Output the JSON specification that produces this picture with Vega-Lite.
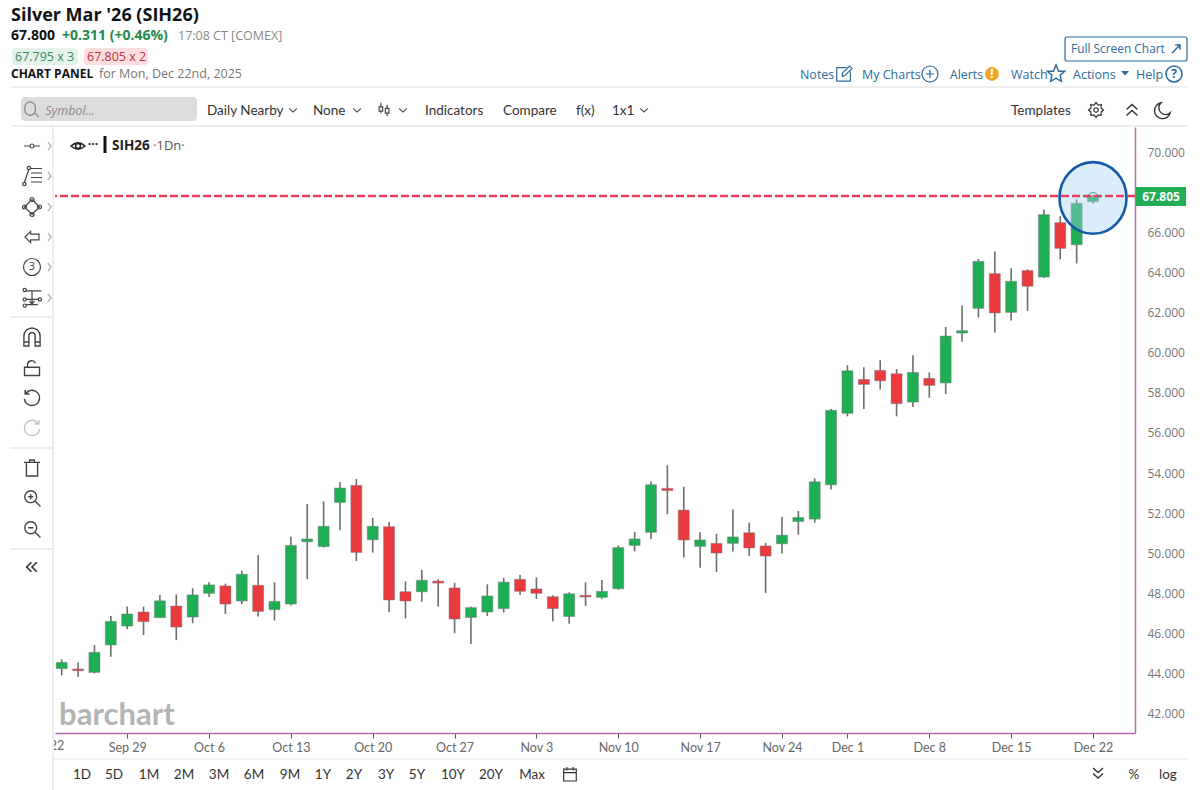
{
"$schema":"https://vega.github.io/schema/vega-lite/v6.json",
"description":"Silver Mar '26 (SIH26) daily candlesticks, barchart panel",
"autosize":{"type":"none"},
"padding":{"left":55,"top":127,"right":65,"bottom":57},
"width":1080,
"height":606,
"background":"#ffffff",
"config":{
"view":{"stroke":null},
"text":{"font":"Open Sans","baseline":"middle","align":"left","fontSize":13,"color":"#333333"},
"point":{"filled":false,"color":"#444444","strokeWidth":1.2,"opacity":1}
},
"datasets":{"candles":[
{"date":"2025-09-23","session":0,"open":44.26,"high":44.72,"low":43.92,"close":44.57},
{"date":"2025-09-24","session":1,"open":44.24,"high":44.56,"low":43.86,"close":44.16},
{"date":"2025-09-25","session":2,"open":44.07,"high":45.44,"low":44.02,"close":45.07},
{"date":"2025-09-26","session":3,"open":45.44,"high":46.88,"low":44.85,"close":46.61},
{"date":"2025-09-29","session":4,"open":46.38,"high":47.35,"low":46.23,"close":46.98},
{"date":"2025-09-30","session":5,"open":47.08,"high":47.35,"low":45.93,"close":46.60},
{"date":"2025-10-01","session":6,"open":46.80,"high":47.93,"low":46.78,"close":47.64},
{"date":"2025-10-02","session":7,"open":47.38,"high":47.96,"low":45.68,"close":46.33},
{"date":"2025-10-03","session":8,"open":46.83,"high":48.26,"low":46.52,"close":47.93},
{"date":"2025-10-06","session":9,"open":48.01,"high":48.56,"low":47.83,"close":48.43},
{"date":"2025-10-07","session":10,"open":48.38,"high":48.49,"low":46.98,"close":47.48},
{"date":"2025-10-08","session":11,"open":47.63,"high":49.14,"low":47.48,"close":48.96},
{"date":"2025-10-09","session":12,"open":48.41,"high":49.92,"low":46.86,"close":47.11},
{"date":"2025-10-10","session":13,"open":47.20,"high":48.56,"low":46.66,"close":47.61},
{"date":"2025-10-13","session":14,"open":47.48,"high":50.83,"low":47.40,"close":50.40},
{"date":"2025-10-14","session":15,"open":50.58,"high":52.46,"low":48.72,"close":50.72},
{"date":"2025-10-15","session":16,"open":50.34,"high":52.59,"low":50.29,"close":51.35},
{"date":"2025-10-16","session":17,"open":52.54,"high":53.56,"low":51.17,"close":53.26},
{"date":"2025-10-17","session":18,"open":53.39,"high":53.71,"low":49.62,"close":50.05},
{"date":"2025-10-20","session":19,"open":50.68,"high":51.78,"low":50.04,"close":51.35},
{"date":"2025-10-21","session":20,"open":51.33,"high":51.56,"low":47.08,"close":47.68},
{"date":"2025-10-22","session":21,"open":48.09,"high":48.61,"low":46.76,"close":47.63},
{"date":"2025-10-23","session":22,"open":48.09,"high":49.17,"low":47.59,"close":48.66},
{"date":"2025-10-24","session":23,"open":48.62,"high":48.71,"low":47.35,"close":48.52},
{"date":"2025-10-27","session":24,"open":48.28,"high":48.54,"low":46.02,"close":46.73},
{"date":"2025-10-28","session":25,"open":46.81,"high":47.35,"low":45.49,"close":47.30},
{"date":"2025-10-29","session":26,"open":47.08,"high":48.46,"low":46.88,"close":47.88},
{"date":"2025-10-30","session":27,"open":47.25,"high":48.79,"low":47.05,"close":48.57},
{"date":"2025-10-31","session":28,"open":48.71,"high":48.94,"low":47.93,"close":48.11},
{"date":"2025-11-03","session":29,"open":48.23,"high":48.81,"low":47.73,"close":48.01},
{"date":"2025-11-04","session":30,"open":47.84,"high":47.91,"low":46.61,"close":47.25},
{"date":"2025-11-05","session":31,"open":46.86,"high":48.06,"low":46.50,"close":47.99},
{"date":"2025-11-06","session":32,"open":47.91,"high":48.56,"low":47.38,"close":47.83},
{"date":"2025-11-07","session":33,"open":47.81,"high":48.67,"low":47.74,"close":48.11},
{"date":"2025-11-10","session":34,"open":48.24,"high":50.40,"low":48.19,"close":50.29},
{"date":"2025-11-11","session":35,"open":50.40,"high":51.08,"low":50.10,"close":50.72},
{"date":"2025-11-12","session":36,"open":51.05,"high":53.59,"low":50.72,"close":53.42},
{"date":"2025-11-13","session":37,"open":53.24,"high":54.39,"low":51.95,"close":53.13},
{"date":"2025-11-14","session":38,"open":52.16,"high":53.32,"low":49.80,"close":50.67},
{"date":"2025-11-17","session":39,"open":50.35,"high":51.05,"low":49.29,"close":50.67},
{"date":"2025-11-18","session":40,"open":50.50,"high":50.97,"low":49.07,"close":50.02},
{"date":"2025-11-19","session":41,"open":50.50,"high":52.20,"low":50.10,"close":50.82},
{"date":"2025-11-20","session":42,"open":51.03,"high":51.53,"low":49.88,"close":50.27},
{"date":"2025-11-21","session":43,"open":50.37,"high":50.52,"low":48.03,"close":49.87},
{"date":"2025-11-24","session":44,"open":50.48,"high":51.83,"low":50.00,"close":50.91},
{"date":"2025-11-25","session":45,"open":51.59,"high":52.11,"low":50.93,"close":51.79},
{"date":"2025-11-26","session":46,"open":51.71,"high":53.74,"low":51.53,"close":53.57},
{"date":"2025-11-28","session":47,"open":53.42,"high":57.19,"low":53.19,"close":57.13},
{"date":"2025-12-01","session":48,"open":56.98,"high":59.38,"low":56.83,"close":59.10},
{"date":"2025-12-02","session":49,"open":58.67,"high":59.27,"low":57.19,"close":58.42},
{"date":"2025-12-03","session":50,"open":59.12,"high":59.62,"low":58.17,"close":58.60},
{"date":"2025-12-04","session":51,"open":58.95,"high":59.19,"low":56.83,"close":57.46},
{"date":"2025-12-05","session":52,"open":57.54,"high":59.87,"low":57.29,"close":59.02},
{"date":"2025-12-08","session":53,"open":58.72,"high":59.02,"low":57.76,"close":58.37},
{"date":"2025-12-09","session":54,"open":58.49,"high":61.28,"low":57.94,"close":60.83},
{"date":"2025-12-10","session":55,"open":60.98,"high":62.35,"low":60.54,"close":61.10},
{"date":"2025-12-11","session":56,"open":62.21,"high":64.67,"low":61.75,"close":64.55},
{"date":"2025-12-12","session":57,"open":63.94,"high":65.04,"low":61.00,"close":61.98},
{"date":"2025-12-15","session":58,"open":62.01,"high":64.21,"low":61.60,"close":63.56},
{"date":"2025-12-16","session":59,"open":64.09,"high":64.16,"low":62.08,"close":63.31},
{"date":"2025-12-17","session":60,"open":63.77,"high":67.13,"low":63.72,"close":66.88},
{"date":"2025-12-18","session":61,"open":66.48,"high":66.80,"low":64.65,"close":65.20},
{"date":"2025-12-19","session":62,"open":65.38,"high":67.64,"low":64.45,"close":67.44},
{"date":"2025-12-22","session":63,"open":67.53,"high":67.86,"low":67.44,"close":67.80}
]},
"layer":[
{"data":{"name":"candles"},"mark":{"type":"rule","color":"#6e6e6e","strokeWidth":1.6},
"encoding":{
"x":{"field":"session","type":"quantitative","scale":{"domain":[-0.409,65.565],"nice":false,"zero":false,"padding":0},
"axis":{"title":null,"grid":false,"values":[4,9,14,19,24,29,34,39,44,48,53,58,63],
"labelExpr":"['Sep 29','Oct 6','Oct 13','Oct 20','Oct 27','Nov 3','Nov 10','Nov 17','Nov 24','Dec 1','Dec 8','Dec 15','Dec 22'][indexof([4,9,14,19,24,29,34,39,44,48,53,58,63],datum.value)]",
"domainColor":"#b56bab","domainWidth":1.5,"tickColor":"#555555","tickSize":5,"labelColor":"#666666","labelFont":"Lato","labelFontSize":12.5,"labelPadding":3,"labelBound":false,"labelFlush":false,"labelOverlap":false}},
"y":{"field":"low","type":"quantitative","scale":{"domain":[41.052,71.246],"nice":false,"zero":false},
"axis":{"title":null,"orient":"right","grid":false,"values":[42,44,46,48,50,52,54,56,58,60,62,64,66,70],"format":".3f",
"domainColor":"#b56bab","domainWidth":1.5,"ticks":false,"tickSize":0,"labelColor":"#777777","labelFont":"Open Sans","labelFontSize":12,"labelPadding":12,"labelBound":false,"labelOverlap":false}},
"y2":{"field":"high"}}},
{"data":{"name":"candles"},"mark":{"type":"bar","size":11,"orient":"vertical","stroke":"#7a7a7a","strokeWidth":0.5},
"encoding":{"x":{"field":"session","type":"quantitative"},"y":{"field":"open","type":"quantitative"},"y2":{"field":"close"},
"color":{"condition":{"test":"datum.close>=datum.open","value":"#1eae53"},"value":"#ea3a3d"}}},

{"data":{"values":[{"label":"highlight"}]},"mark":{"type":"point","shape":"M-1,0A1,1.07,0,1,1,1,0A1,1.07,0,1,1,-1,0Z","size":4489,"filled":true,"fill":"#a6d3f6","fillOpacity":0.4,"stroke":"#1259a8","strokeWidth":2.6,"strokeOpacity":1},"encoding":{"x":{"datum":63},"y":{"datum":67.71}}},
{"data":{"values":[{"label":"last"}]},"mark":{"type":"rule","color":"#e8405c","strokeWidth":2.5,"strokeDash":[8,3]},"encoding":{"y":{"datum":67.805}}},
{"data":{"values":[{"label":"arc"}]},"mark":{"type":"point","shape":"M-1,0.4A1,1,0,1,1,1,0.4","size":144,"color":"#3a9d8f","strokeWidth":1},"encoding":{"x":{"datum":63},"y":{"datum":67.8}}},

{"data":{"values":[{"label":"tag"}]},"mark":{"type":"rect","color":"#22ad56"},"encoding":{"x":{"datum":65.628},"x2":{"datum":68.682},"y":{"datum":68.257},"y2":{"datum":67.31}}},
{"data":{"values":[{"label":"67.805"}]},"mark":{"type":"text","align":"center","fontWeight":"bold","fontSize":12,"color":"#ffffff"},"encoding":{"x":{"datum":67.155},"y":{"datum":67.783},"text":{"field":"label"}}},

{"data":{"values":[{"label":"Sep 22"}]},"mark":{"type":"text","align":"center","font":"Lato","fontSize":12.5,"color":"#666666"},"encoding":{"x":{"datum":-1},"y":{"datum":40.404},"text":{"field":"label"}}},
{"data":{"values":[{"label":"mask"}]},"mark":{"type":"rect","color":"#ffffff"},"encoding":{"x":{"datum":-3.4},"x2":{"datum":-0.47},"y":{"datum":40.754},"y2":{"datum":39.956}}},

{"data":{"values":[{"label":"barchart"}]},"mark":{"type":"text","font":"Lato","fontWeight":"bold","fontSize":31,"color":"#b4b4b4"},"encoding":{"x":{"datum":-0.16},"y":{"datum":41.92},"text":{"field":"label"}}},

{"data":{"values":[{"label":"line"}]},"mark":{"type":"rule","color":"#dddddd"},"encoding":{"x":{"datum":-3.097},"x2":{"datum":68.743},"y":{"datum":73.239}}},
{"data":{"values":[{"label":"line"}]},"mark":{"type":"rule","color":"#dddddd"},"encoding":{"x":{"datum":-3.097},"x2":{"datum":68.743},"y":{"datum":71.296}}},
{"data":{"values":[{"label":"line"}]},"mark":{"type":"rule","color":"#e4e4e4"},"encoding":{"x":{"datum":-0.47},"x2":{"datum":68.743},"y":{"datum":39.756}}},
{"data":{"values":[{"label":"line"}]},"mark":{"type":"rule","color":"#dddddd"},"encoding":{"x":{"datum":-0.531},"y":{"datum":71.296},"y2":{"datum":38.212}}},
{"data":{"values":[{"label":"line"}]},"mark":{"type":"rule","color":"#dddddd"},"encoding":{"x":{"datum":-3.15},"x2":{"datum":-0.531},"y":{"datum":61.779}}},
{"data":{"values":[{"label":"line"}]},"mark":{"type":"rule","color":"#dddddd"},"encoding":{"x":{"datum":-3.15},"x2":{"datum":-0.531},"y":{"datum":55.252}}},
{"data":{"values":[{"label":"line"}]},"mark":{"type":"rule","color":"#dddddd"},"encoding":{"x":{"datum":-3.15},"x2":{"datum":-0.531},"y":{"datum":50.22}}},

{"data":{"values":[{"label":"Silver Mar '26 (SIH26)"}]},"mark":{"type":"text","fontWeight":"bold","fontSize":18,"color":"#111111"},"encoding":{"x":{"datum":-3.097},"y":{"datum":76.777},"text":{"field":"label"}}},
{"data":{"values":[{"label":"67.800"}]},"mark":{"type":"text","fontWeight":"bold","fontSize":14,"color":"#111111"},"encoding":{"x":{"datum":-3.097},"y":{"datum":75.78},"text":{"field":"label"}}},
{"data":{"values":[{"label":"+0.311 (+0.46%)"}]},"mark":{"type":"text","fontWeight":"bold","fontSize":14,"color":"#1f8a4c"},"encoding":{"x":{"datum":0.018},"y":{"datum":75.78},"text":{"field":"label"}}},
{"data":{"values":[{"label":"17:08 CT [COMEX]"}]},"mark":{"type":"text","fontSize":12.5,"color":"#888888"},"encoding":{"x":{"datum":7.104},"y":{"datum":75.78},"text":{"field":"label"}}},
{"data":{"values":[{"label":"bid"}]},"mark":{"type":"rect","color":"#e3f3ea","cornerRadius":3},"encoding":{"x":{"datum":-3.036},"x2":{"datum":0.996},"y":{"datum":75.182},"y2":{"datum":74.335}}},
{"data":{"values":[{"label":"ask"}]},"mark":{"type":"rect","color":"#fbdfe0","cornerRadius":3},"encoding":{"x":{"datum":1.362},"x2":{"datum":5.272},"y":{"datum":75.182},"y2":{"datum":74.335}}},
{"data":{"values":[{"label":"67.795 x 3"}]},"mark":{"type":"text","fontSize":12.5,"color":"#3a8a62"},"encoding":{"x":{"datum":-2.853},"y":{"datum":74.734},"text":{"field":"label"}}},
{"data":{"values":[{"label":"67.805 x 2"}]},"mark":{"type":"text","fontSize":12.5,"color":"#c0303c"},"encoding":{"x":{"datum":1.545},"y":{"datum":74.734},"text":{"field":"label"}}},
{"data":{"values":[{"label":"CHART PANEL"}]},"mark":{"type":"text","fontWeight":"bold","fontSize":12,"color":"#111111"},"encoding":{"x":{"datum":-3.097},"y":{"datum":73.887},"text":{"field":"label"}}},
{"data":{"values":[{"label":"for Mon, Dec 22nd, 2025"}]},"mark":{"type":"text","fontSize":12.5,"color":"#777777"},"encoding":{"x":{"datum":2.279},"y":{"datum":73.887},"text":{"field":"label"}}},

{"data":{"values":[{"label":"button"}]},"mark":{"type":"rect","fill":"#ffffff","stroke":"#2c6a9c","strokeWidth":1.2,"cornerRadius":2},"encoding":{"x":{"datum":61.291},"x2":{"datum":68.743},"y":{"datum":75.73},"y2":{"datum":74.535}}},
{"data":{"values":[{"label":"Full Screen Chart"}]},"mark":{"type":"text","fontSize":11.9,"color":"#2c6a9c"},"encoding":{"x":{"datum":61.657},"y":{"datum":75.133},"text":{"field":"label"}}},
{"data":{"values":[{"label":"expand"}]},"mark":{"type":"point","shape":"M-1,1L1,-1M-.2,-1H1V.2","size":64,"color":"#2c6a9c","strokeWidth":1.5},"encoding":{"x":{"datum":68.071},"y":{"datum":75.133}}},
{"data":{"values":[{"label":"Notes"}]},"mark":{"type":"text","fontSize":12.5,"color":"#2c6a9c"},"encoding":{"x":{"datum":45.098},"y":{"datum":73.85},"text":{"field":"label"}}},
{"data":{"values":[{"label":"My Charts"}]},"mark":{"type":"text","fontSize":12.5,"color":"#2c6a9c"},"encoding":{"x":{"datum":48.886},"y":{"datum":73.85},"text":{"field":"label"}}},
{"data":{"values":[{"label":"Alerts"}]},"mark":{"type":"text","fontSize":12.3,"color":"#2c6a9c"},"encoding":{"x":{"datum":54.261},"y":{"datum":73.85},"text":{"field":"label"}}},
{"data":{"values":[{"label":"Watch"}]},"mark":{"type":"text","fontSize":12.5,"color":"#2c6a9c"},"encoding":{"x":{"datum":57.992},"y":{"datum":73.85},"text":{"field":"label"}}},
{"data":{"values":[{"label":"Actions"}]},"mark":{"type":"text","fontSize":12.5,"color":"#2c6a9c"},"encoding":{"x":{"datum":61.779},"y":{"datum":73.85},"text":{"field":"label"}}},
{"data":{"values":[{"label":"Help"}]},"mark":{"type":"text","fontSize":12.5,"color":"#2c6a9c"},"encoding":{"x":{"datum":65.628},"y":{"datum":73.82},"text":{"field":"label"}}},
{"data":{"values":[{"label":"notes"}]},"mark":{"type":"point","shape":"M.3,-.8H-.9V.9H.8V-.3M-.2,.3L.1,.2L1,-.7L.7,-1L-.2,-.1Z","size":256,"color":"#2c6a9c"},"encoding":{"x":{"datum":47.786},"y":{"datum":73.887}}},
{"data":{"values":[{"label":"plus"}]},"mark":{"type":"point","shape":"M1,0A1,1,0,1,1,-1,0A1,1,0,1,1,1,0M-.5,0H.5M0,-.5V.5","size":256,"color":"#2c6a9c"},"encoding":{"x":{"datum":53.04},"y":{"datum":73.887}}},
{"data":{"values":[{"label":"alert"}]},"mark":{"type":"point","shape":"circle","size":190,"filled":true,"color":"#f5a623"},"encoding":{"x":{"datum":56.827},"y":{"datum":73.887}}},
{"data":{"values":[{"label":"!"}]},"mark":{"type":"text","align":"center","fontWeight":"bold","fontSize":13,"color":"#ffffff"},"encoding":{"x":{"datum":56.827},"y":{"datum":73.887},"text":{"field":"label"}}},
{"data":{"values":[{"label":"star"}]},"mark":{"type":"point","shape":"M0,-1L.29,-.31L.95,-.31L.47,.12L.59,.81L0,.45L-.59,.81L-.47,.12L-.95,-.31L-.29,-.31Z","size":324,"color":"#2c6a9c","strokeWidth":1.5},"encoding":{"x":{"datum":60.741},"y":{"datum":73.887}}},
{"data":{"values":[{"label":"caret"}]},"mark":{"type":"point","shape":"M-1,-.5H1L0,.6Z","size":64,"filled":true,"color":"#2c6a9c"},"encoding":{"x":{"datum":64.956},"y":{"datum":73.937}}},
{"data":{"values":[{"label":"help"}]},"mark":{"type":"point","shape":"M1,0A1,1,0,1,1,-1,0A1,1,0,1,1,1,0","size":256,"color":"#2c6a9c","strokeWidth":1.5},"encoding":{"x":{"datum":67.949},"y":{"datum":73.887}}},
{"data":{"values":[{"label":"?"}]},"mark":{"type":"text","align":"center","fontWeight":"bold","fontSize":12,"color":"#2c6a9c"},"encoding":{"x":{"datum":67.949},"y":{"datum":73.887},"text":{"field":"label"}}},

{"data":{"values":[{"label":"search box"}]},"mark":{"type":"rect","color":"#dcdcdc","cornerRadius":4},"encoding":{"x":{"datum":-2.486},"x2":{"datum":8.265},"y":{"datum":72.741},"y2":{"datum":71.545}}},
{"data":{"values":[{"label":"search"}]},"mark":{"type":"point","shape":"M.45,-.2A.75,.75,0,1,1,-1,-.2A.75,.75,0,1,1,.45,-.2M.3,.35L1,1","size":196,"color":"#888888"},"encoding":{"x":{"datum":-1.814},"y":{"datum":72.093}}},
{"data":{"values":[{"label":"Symbol..."}]},"mark":{"type":"text","fontStyle":"italic","fontSize":12.5,"color":"#888888"},"encoding":{"x":{"datum":-1.008},"y":{"datum":72.05},"text":{"field":"label"}}},
{"data":{"values":[{"label":"Daily Nearby"}]},"mark":{"type":"text","font":"Lato","fontSize":13.5},"encoding":{"x":{"datum":8.876},"y":{"datum":72.05},"text":{"field":"label"}}},
{"data":{"values":[{"label":"None"}]},"mark":{"type":"text","font":"Lato","fontSize":13.5},"encoding":{"x":{"datum":15.352},"y":{"datum":72.05},"text":{"field":"label"}}},
{"data":{"values":[{"label":"Indicators"}]},"mark":{"type":"text","font":"Lato","fontSize":13.5},"encoding":{"x":{"datum":22.194},"y":{"datum":72.05},"text":{"field":"label"}}},
{"data":{"values":[{"label":"Compare"}]},"mark":{"type":"text","font":"Lato","fontSize":13.5},"encoding":{"x":{"datum":26.959},"y":{"datum":72.05},"text":{"field":"label"}}},
{"data":{"values":[{"label":"f(x)"}]},"mark":{"type":"text","font":"Lato","fontSize":13.5},"encoding":{"x":{"datum":31.419},"y":{"datum":72.05},"text":{"field":"label"}}},
{"data":{"values":[{"label":"1x1"}]},"mark":{"type":"text","font":"Lato","fontSize":13.5},"encoding":{"x":{"datum":33.618},"y":{"datum":72.05},"text":{"field":"label"}}},
{"data":{"values":[{"label":"Templates"}]},"mark":{"type":"text","font":"Lato","fontSize":13.5},"encoding":{"x":{"datum":57.992},"y":{"datum":72.05},"text":{"field":"label"}}},
{"data":{"values":[{"label":"chevron"}]},"mark":{"type":"point","shape":"M-1,-.4L0,.5L1,-.4","size":64,"color":"#555555"},"encoding":{"x":{"datum":14.13},"y":{"datum":72.093}}},
{"data":{"values":[{"label":"chevron"}]},"mark":{"type":"point","shape":"M-1,-.4L0,.5L1,-.4","size":64,"color":"#555555"},"encoding":{"x":{"datum":18.04},"y":{"datum":72.093}}},
{"data":{"values":[{"label":"chevron"}]},"mark":{"type":"point","shape":"M-1,-.4L0,.5L1,-.4","size":64,"color":"#555555"},"encoding":{"x":{"datum":20.85},"y":{"datum":72.093}}},
{"data":{"values":[{"label":"chevron"}]},"mark":{"type":"point","shape":"M-1,-.4L0,.5L1,-.4","size":64,"color":"#555555"},"encoding":{"x":{"datum":35.573},"y":{"datum":72.093}}},
{"data":{"values":[{"label":"candle type"}]},"mark":{"type":"point","shape":"M-.7,-.3H-.2V.3H-.7ZM-.45,-.3V-.9M-.45,.3V.6M.2,-.1H.7V.6H.2ZM.45,-.1V-.6M.45,.6V1","size":196},"encoding":{"x":{"datum":19.689},"y":{"datum":72.143}}},
{"data":{"values":[{"label":"gear"}]},"mark":{"type":"point","shape":"M1,0L.665,.276L.707,.707L.276,.665L0,1L-.276,.665L-.707,.707L-.665,.276L-1,0L-.665,-.276L-.707,-.707L-.276,-.665L0,-1L.276,-.665L.707,-.707L.665,-.276ZM.3,0A.3,.3,0,1,1,-.3,0A.3,.3,0,1,1,.3,0","size":225,"color":"#333333"},"encoding":{"x":{"datum":63.184},"y":{"datum":72.093}}},
{"data":{"values":[{"label":"collapse"}]},"mark":{"type":"point","shape":"M-1,-.1L0,-1L1,-.1M-1,1L0,.1L1,1","size":121,"color":"#333333","strokeWidth":1.5},"encoding":{"x":{"datum":65.383},"y":{"datum":72.093}}},
{"data":{"values":[{"label":"moon"}]},"mark":{"type":"point","shape":"M.9,.35A1,1,0,1,1,-.25,-.9A.8,.8,0,0,0,.9,.35Z","size":256,"color":"#333333","strokeWidth":1.4},"encoding":{"x":{"datum":67.277},"y":{"datum":72.093}}},

{"data":{"values":[{"label":"eye"}]},"mark":{"type":"point","shape":"M-1,0Q0,-.9,1,0Q0,.9,-1,0ZM.35,0A.35,.35,0,1,1,-.35,0A.35,.35,0,1,1,.35,0","size":196,"color":"#222222","strokeWidth":1.5},"encoding":{"x":{"datum":0.996},"y":{"datum":70.299}}},
{"data":{"values":[{"label":"···"}]},"mark":{"type":"text","align":"center","fontWeight":"bold","fontSize":12,"color":"#222222"},"encoding":{"x":{"datum":1.912},"y":{"datum":70.399},"text":{"field":"label"}}},
{"data":{"values":[{"label":"series bar"}]},"mark":{"type":"rule","color":"#111111","strokeWidth":3},"encoding":{"x":{"datum":2.645},"y":{"datum":70.798},"y2":{"datum":69.951}}},
{"data":{"values":[{"label":"SIH26"}]},"mark":{"type":"text","fontWeight":"bold","fontSize":13.5,"color":"#222222"},"encoding":{"x":{"datum":3.073},"y":{"datum":70.299},"text":{"field":"label"}}},
{"data":{"values":[{"label":"·1Dn·"}]},"mark":{"type":"text","fontSize":13,"color":"#555555"},"encoding":{"x":{"datum":5.58},"y":{"datum":70.299},"text":{"field":"label"}}},

{"data":{"values":[{"label":"line tool"}]},"mark":{"type":"point","shape":"M-1,0H-.25M.25,0H1M.25,0A.25,.25,0,1,1,-.25,0A.25,.25,0,1,1,.25,0","size":256},"encoding":{"x":{"datum":-1.814},"y":{"datum":70.299}}},
{"data":{"values":[{"label":"fib tool"}]},"mark":{"type":"point","shape":"M-.1,-.75H1M-.1,-.3H1M-.1,.15H1M-.1,.6H1M-.75,.6L-.3,-.7M-.15,-.8A.17,.17,0,1,1,-.49,-.8A.17,.17,0,1,1,-.15,-.8M-.6,.8A.17,.17,0,1,1,-.94,.8A.17,.17,0,1,1,-.6,.8","size":400},"encoding":{"x":{"datum":-1.814},"y":{"datum":68.805}}},
{"data":{"values":[{"label":"shape tool"}]},"mark":{"type":"point","shape":"M0,-.75L.75,0L0,.75L-.75,0ZM.2,-.75A.2,.2,0,1,1,-.2,-.75A.2,.2,0,1,1,.2,-.75M.2,.75A.2,.2,0,1,1,-.2,.75A.2,.2,0,1,1,.2,.75M.95,0A.2,.2,0,1,1,.55,0A.2,.2,0,1,1,.95,0M-.55,0A.2,.2,0,1,1,-.95,0A.2,.2,0,1,1,-.55,0","size":400},"encoding":{"x":{"datum":-1.814},"y":{"datum":67.26}}},
{"data":{"values":[{"label":"arrow tool"}]},"mark":{"type":"point","shape":"M-1,0L-.2,-.8V-.4H1V.4H-.2V.8Z","size":196},"encoding":{"x":{"datum":-1.814},"y":{"datum":65.765}}},
{"data":{"values":[{"label":"count tool"}]},"mark":{"type":"point","shape":"M1,0A1,1,0,1,1,-1,0A1,1,0,1,1,1,0","size":289},"encoding":{"x":{"datum":-1.814},"y":{"datum":64.27}}},
{"data":{"values":[{"label":"3"}]},"mark":{"type":"text","align":"center","fontSize":11,"color":"#444444"},"encoding":{"x":{"datum":-1.814},"y":{"datum":64.27},"text":{"field":"label"}}},
{"data":{"values":[{"label":"measure tool"}]},"mark":{"type":"point","shape":"M-.6,-.75H1M-.6,.7H.6M0,-.7V.65M-.25,.3L0,.65L.25,.3M-.6,-.85A.17,.17,0,1,1,-.94,-.85A.17,.17,0,1,1,-.6,-.85M-.6,.15A.17,.17,0,1,1,-.94,.15A.17,.17,0,1,1,-.6,.15M-.6,.8A.17,.17,0,1,1,-.94,.8A.17,.17,0,1,1,-.6,.8M1,.15A.17,.17,0,1,1,.66,.15A.17,.17,0,1,1,1,.15M-.6,.15H.66","size":361},"encoding":{"x":{"datum":-1.814},"y":{"datum":62.726}}},
{"data":{"values":[{"label":"magnet"}]},"mark":{"type":"point","shape":"M-.9,1V-.1A.9,.9,0,0,1,.9,-.1V1H.35V-.1A.35,.4,0,0,0,-.35,-.1V1ZM-.9,.55H-.35M.35,.55H.9","size":324,"strokeWidth":1.4},"encoding":{"x":{"datum":-1.814},"y":{"datum":60.783}}},
{"data":{"values":[{"label":"lock"}]},"mark":{"type":"point","shape":"M-1,-.1H1V1H-1ZM-.6,-.1V-.5A.55,.55,0,0,1,.45,-.65","size":225,"strokeWidth":1.4},"encoding":{"x":{"datum":-1.814},"y":{"datum":59.238}}},
{"data":{"values":[{"label":"undo"}]},"mark":{"type":"point","shape":"M-.75,-.6A.95,.95,0,1,1,-.95,.1M-.85,-1V-.5H-.3","size":256,"strokeWidth":1.5},"encoding":{"x":{"datum":-1.814},"y":{"datum":57.743}}},
{"data":{"values":[{"label":"redo"}]},"mark":{"type":"point","shape":"M.75,-.6A.95,.95,0,1,0,.95,.1M.85,-1V-.5H.3","size":256,"strokeWidth":1.5,"color":"#c4c4c4"},"encoding":{"x":{"datum":-1.814},"y":{"datum":56.249}}},
{"data":{"values":[{"label":"trash"}]},"mark":{"type":"point","shape":"M-1,-.7H1M-.3,-.7V-1H.3V-.7M-.7,-.7V1H.7V-.7M-.7,1H.7","size":256,"strokeWidth":1.4},"encoding":{"x":{"datum":-1.814},"y":{"datum":54.256}}},
{"data":{"values":[{"label":"zoom in"}]},"mark":{"type":"point","shape":"M.55,-.15A.7,.7,0,1,1,-.85,-.15A.7,.7,0,1,1,.55,-.15M.35,.35L1,1M-.45,-.15H.15M-.15,-.45V.15","size":289,"strokeWidth":1.4},"encoding":{"x":{"datum":-1.814},"y":{"datum":52.761}}},
{"data":{"values":[{"label":"zoom out"}]},"mark":{"type":"point","shape":"M.55,-.15A.7,.7,0,1,1,-.85,-.15A.7,.7,0,1,1,.55,-.15M.35,.35L1,1M-.45,-.15H.15","size":289,"strokeWidth":1.4},"encoding":{"x":{"datum":-1.814},"y":{"datum":51.216}}},
{"data":{"values":[{"label":"collapse panel"}]},"mark":{"type":"point","shape":"M-.1,-.8L-.9,0L-.1,.8M.8,-.8L0,0L.8,.8","size":144,"strokeWidth":1.6,"color":"#333333"},"encoding":{"x":{"datum":-1.814},"y":{"datum":49.323}}},
{"data":{"values":[{"label":"more"}]},"mark":{"type":"point","shape":"M-.4,-1L.4,0L-.4,1","size":64,"color":"#aaaaaa"},"encoding":{"x":{"datum":-0.745},"y":{"datum":70.299}}},
{"data":{"values":[{"label":"more"}]},"mark":{"type":"point","shape":"M-.4,-1L.4,0L-.4,1","size":64,"color":"#aaaaaa"},"encoding":{"x":{"datum":-0.745},"y":{"datum":68.805}}},
{"data":{"values":[{"label":"more"}]},"mark":{"type":"point","shape":"M-.4,-1L.4,0L-.4,1","size":64,"color":"#aaaaaa"},"encoding":{"x":{"datum":-0.745},"y":{"datum":67.26}}},
{"data":{"values":[{"label":"more"}]},"mark":{"type":"point","shape":"M-.4,-1L.4,0L-.4,1","size":64,"color":"#aaaaaa"},"encoding":{"x":{"datum":-0.745},"y":{"datum":65.765}}},
{"data":{"values":[{"label":"more"}]},"mark":{"type":"point","shape":"M-.4,-1L.4,0L-.4,1","size":64,"color":"#aaaaaa"},"encoding":{"x":{"datum":-0.745},"y":{"datum":64.27}}},
{"data":{"values":[{"label":"more"}]},"mark":{"type":"point","shape":"M-.4,-1L.4,0L-.4,1","size":64,"color":"#aaaaaa"},"encoding":{"x":{"datum":-0.745},"y":{"datum":62.726}}},

{"data":{"values":[{"label":"1D"}]},"mark":{"type":"text","align":"center","font":"Lato","fontSize":13.5},"encoding":{"x":{"datum":1.24},"y":{"datum":38.96},"text":{"field":"label"}}},
{"data":{"values":[{"label":"5D"}]},"mark":{"type":"text","align":"center","font":"Lato","fontSize":13.5},"encoding":{"x":{"datum":3.195},"y":{"datum":38.96},"text":{"field":"label"}}},
{"data":{"values":[{"label":"1M"}]},"mark":{"type":"text","align":"center","font":"Lato","fontSize":13.5},"encoding":{"x":{"datum":5.333},"y":{"datum":38.96},"text":{"field":"label"}}},
{"data":{"values":[{"label":"2M"}]},"mark":{"type":"text","align":"center","font":"Lato","fontSize":13.5},"encoding":{"x":{"datum":7.471},"y":{"datum":38.96},"text":{"field":"label"}}},
{"data":{"values":[{"label":"3M"}]},"mark":{"type":"text","align":"center","font":"Lato","fontSize":13.5},"encoding":{"x":{"datum":9.609},"y":{"datum":38.96},"text":{"field":"label"}}},
{"data":{"values":[{"label":"6M"}]},"mark":{"type":"text","align":"center","font":"Lato","fontSize":13.5},"encoding":{"x":{"datum":11.747},"y":{"datum":38.96},"text":{"field":"label"}}},
{"data":{"values":[{"label":"9M"}]},"mark":{"type":"text","align":"center","font":"Lato","fontSize":13.5},"encoding":{"x":{"datum":13.946},"y":{"datum":38.96},"text":{"field":"label"}}},
{"data":{"values":[{"label":"1Y"}]},"mark":{"type":"text","align":"center","font":"Lato","fontSize":13.5},"encoding":{"x":{"datum":15.962},"y":{"datum":38.96},"text":{"field":"label"}}},
{"data":{"values":[{"label":"2Y"}]},"mark":{"type":"text","align":"center","font":"Lato","fontSize":13.5},"encoding":{"x":{"datum":17.856},"y":{"datum":38.96},"text":{"field":"label"}}},
{"data":{"values":[{"label":"3Y"}]},"mark":{"type":"text","align":"center","font":"Lato","fontSize":13.5},"encoding":{"x":{"datum":19.811},"y":{"datum":38.96},"text":{"field":"label"}}},
{"data":{"values":[{"label":"5Y"}]},"mark":{"type":"text","align":"center","font":"Lato","fontSize":13.5},"encoding":{"x":{"datum":21.704},"y":{"datum":38.96},"text":{"field":"label"}}},
{"data":{"values":[{"label":"10Y"}]},"mark":{"type":"text","align":"center","font":"Lato","fontSize":13.5},"encoding":{"x":{"datum":23.904},"y":{"datum":38.96},"text":{"field":"label"}}},
{"data":{"values":[{"label":"20Y"}]},"mark":{"type":"text","align":"center","font":"Lato","fontSize":13.5},"encoding":{"x":{"datum":26.225},"y":{"datum":38.96},"text":{"field":"label"}}},
{"data":{"values":[{"label":"Max"}]},"mark":{"type":"text","align":"center","font":"Lato","fontSize":13.5},"encoding":{"x":{"datum":28.73},"y":{"datum":38.96},"text":{"field":"label"}}},
{"data":{"values":[{"label":"calendar"}]},"mark":{"type":"point","shape":"M-.9,-.7H.9V1H-.9ZM-.9,-.2H.9M-.45,-1V-.5M.45,-1V-.5","size":196,"color":"#333333"},"encoding":{"x":{"datum":31.049},"y":{"datum":39.009}}},
{"data":{"values":[{"label":"expand panel"}]},"mark":{"type":"point","shape":"M-1,-1L0,-.1L1,-1M-1,.1L0,1L1,.1","size":100,"color":"#333333","strokeWidth":1.4},"encoding":{"x":{"datum":63.307},"y":{"datum":39.06}}},
{"data":{"values":[{"label":"%"}]},"mark":{"type":"text","align":"center","font":"Lato","fontSize":13.5},"encoding":{"x":{"datum":65.5},"y":{"datum":38.96},"text":{"field":"label"}}},
{"data":{"values":[{"label":"log"}]},"mark":{"type":"text","align":"center","font":"Lato","fontSize":13.5},"encoding":{"x":{"datum":67.577},"y":{"datum":38.96},"text":{"field":"label"}}}
]
}
